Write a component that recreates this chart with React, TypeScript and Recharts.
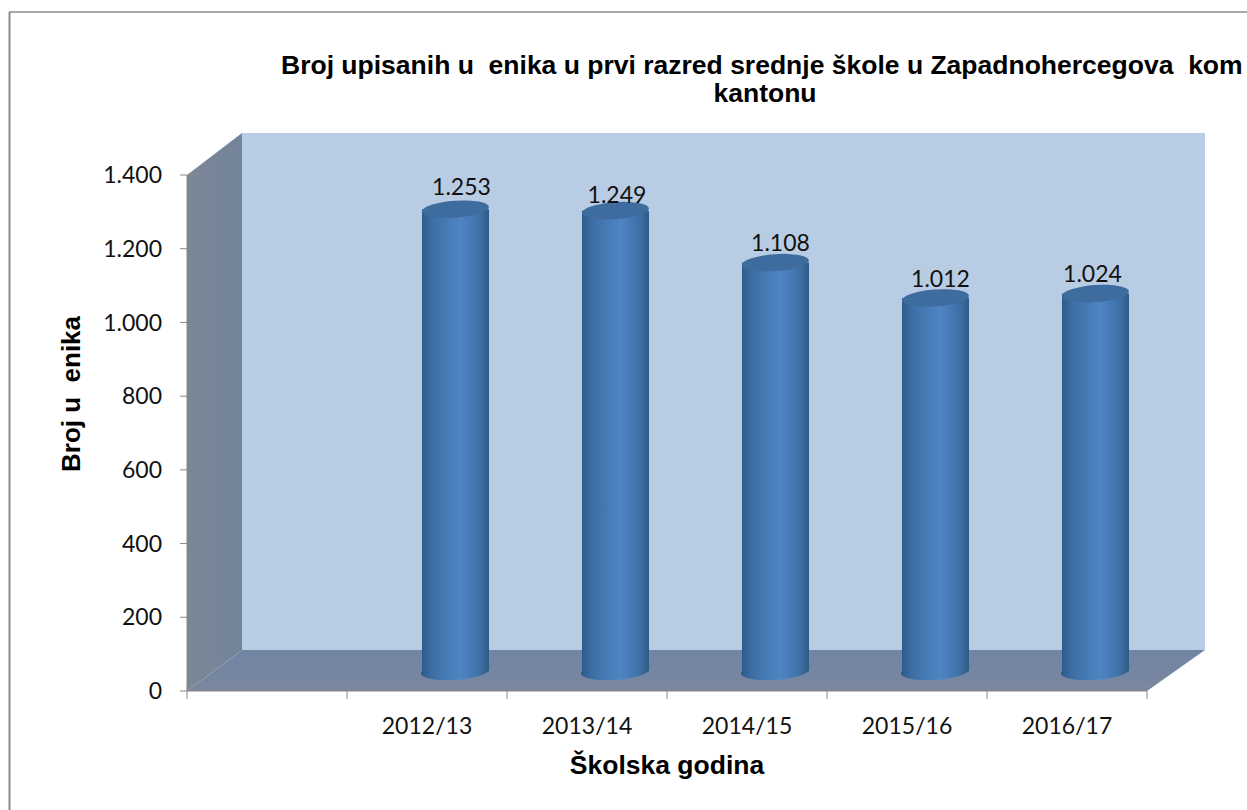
import { BarChart, Bar, XAxis, YAxis, LabelList, usePlotArea } from "recharts";

const categories = ["", "2012/13", "2013/14", "2014/15", "2015/16", "2016/17"];
const students = [null, 1253, 1249, 1108, 1012, 1024];
const yTicks = [0, 200, 400, 600, 800, 1000, 1200, 1400];

const titleLines = [
  "Broj upisanih u  enika u prvi razred srednje škole u Zapadnohercegova  kom",
  "kantonu",
];
const xTitle = "Školska godina";
const yTitle = "Broj u  enika";

const chartData = categories.map((year, i) => ({ year, students: students[i] }));

// 3D look: how far the back wall sits from the front axes
const DEPTH_X = 55;
const DEPTH_Y = 41;
const BAR_SHIFT_X = 28;
const BAR_SHIFT_Y = -20;
const CAP_RY = 8.5;
const LABEL_FONT = "Lato, 'Open Sans', sans-serif";
const TITLE_FONT = "'Liberation Sans', Arial, sans-serif";
const PRE = { whiteSpace: "pre" as const };
// small hand nudges of the data labels, one per drawn bar
const labelNudgeX = [6, 1.5, 5, 5, -3];
const labelNudgeY = [-23, -17, -21, -20, -21];

const formatThousands = (v: number) =>
  String(v).replace(/\B(?=(\d{3})+$)/g, ".");

const Walls = () => {
  const plot = usePlotArea();
  if (!plot) return null;
  const { x, y, width, height } = plot;
  const left = x;
  const right = x + width;
  const top = y;
  const bottom = y + height;
  const pts = (list: number[][]) => list.map((p) => p.join(",")).join(" ");
  return (
    <g>
      <defs>
        <linearGradient id="sideWall" x1="0" y1="0" x2="1" y2="0">
          <stop offset="0%" stopColor="#7c8795" />
          <stop offset="100%" stopColor="#72849b" />
        </linearGradient>
        <linearGradient id="floorFill" x1="0" y1="0" x2="0" y2="1">
          <stop offset="0%" stopColor="#7185a4" />
          <stop offset="100%" stopColor="#7a87a0" />
        </linearGradient>
      </defs>
      <rect
        x={left + DEPTH_X}
        y={top - DEPTH_Y - 1}
        width={width + 3}
        height={height + 1}
        fill="#b8cce4"
      />
      <polygon
        points={pts([
          [left, top],
          [left + DEPTH_X, top - DEPTH_Y - 1],
          [left + DEPTH_X, bottom - DEPTH_Y],
          [left, bottom],
        ])}
        fill="url(#sideWall)"
      />
      <polygon
        points={pts([
          [left, bottom],
          [left + DEPTH_X, bottom - DEPTH_Y],
          [right + DEPTH_X + 3, bottom - DEPTH_Y],
          [right, bottom],
        ])}
        fill="url(#floorFill)"
      />
    </g>
  );
};

const Cylinder = (props: any) => {
  const { x, y, width, height } = props;
  if (!height || height <= 0) return null;
  const rx = width / 2;
  const cx = x + rx + BAR_SHIFT_X;
  const topY = y + BAR_SHIFT_Y;
  const baseY = y + height + BAR_SHIFT_Y;
  const tilt = -4;
  return (
    <g>
      <path
        d={`M${cx - rx},${topY} L${cx - rx},${baseY} A${rx},${CAP_RY} ${tilt} 0 0 ${cx + rx},${baseY} L${cx + rx},${topY} Z`}
        fill="url(#cylBody)"
      />
      <ellipse
        cx={cx}
        cy={topY}
        rx={rx}
        ry={CAP_RY}
        fill="#3f6c9f"
        transform={`rotate(${tilt} ${cx} ${topY})`}
      />
    </g>
  );
};

const BarValueLabel = (props: any) => {
  const { x, y, width, value, index } = props;
  if (value == null) return null;
  return (
    <text
      x={x + width / 2 + BAR_SHIFT_X + labelNudgeX[index]}
      y={y + BAR_SHIFT_Y + labelNudgeY[index]}
      textAnchor="middle"
      dominantBaseline="central"
      fontFamily={LABEL_FONT}
      fontSize={23}
      fill="#111"
    >
      {formatThousands(value)}
    </text>
  );
};

const CategoryTick = (props: any) => {
  const { x, y, payload, index } = props;
  const half = 80;
  return (
    <g>
      <line x1={x - half} x2={x - half} y1={y - 8} y2={y} stroke="#868686" />
      {index === categories.length - 1 && (
        <line x1={x + half} x2={x + half} y1={y - 8} y2={y} stroke="#868686" />
      )}
      <text
        x={x}
        y={y + 26}
        textAnchor="middle"
        dominantBaseline="central"
        fontFamily={LABEL_FONT}
        fontSize={23}
        fill="#111"
      >
        {payload.value}
      </text>
    </g>
  );
};

const Titles = () => (
  <g fontFamily={TITLE_FONT} fontWeight="bold" fill="#000">
    <text x={281} y={65} dominantBaseline="central" fontSize={26.5} style={PRE}>
      {titleLines[0]}
    </text>
    <text x={765} y={93} textAnchor="middle" dominantBaseline="central" fontSize={26.5}>
      {titleLines[1]}
    </text>
    <text x={667} y={765} textAnchor="middle" dominantBaseline="central" fontSize={26.5}>
      {xTitle}
    </text>
    <text
      x={71}
      y={394}
      textAnchor="middle"
      dominantBaseline="central"
      fontSize={26}
      transform="rotate(-90 71 394)"
      style={PRE}
    >
      {yTitle}
    </text>
    <line x1={9.5} y1={12} x2={9.5} y2={810} stroke="#8c8c8c" strokeWidth={2} />
    <line x1={9} y1={12} x2={1247} y2={12} stroke="#8c8c8c" strokeWidth={1.5} />
  </g>
);

export default function App() {
  return (
    <div style={{ position: "absolute", left: 0, top: 0, background: "#fff" }}>
      <BarChart
        width={1247}
        height={810}
        data={chartData}
        margin={{ top: 175, right: 100, bottom: 59, left: 127 }}
        barCategoryGap={0}
      >
        <defs>
          <linearGradient id="cylBody" x1="0" y1="0" x2="1" y2="0">
            <stop offset="0%" stopColor="#2f5a88" />
            <stop offset="18%" stopColor="#3e6fa6" />
            <stop offset="58%" stopColor="#4f85c5" />
            <stop offset="85%" stopColor="#3f71a8" />
            <stop offset="100%" stopColor="#2f5a86" />
          </linearGradient>
        </defs>
        <Walls />
        <XAxis
          dataKey="year"
          height={60}
          interval={0}
          tick={<CategoryTick />}
          tickLine={false}
          axisLine={{ stroke: "#868686" }}
        />
        <YAxis
          width={60}
          domain={[0, 1400]}
          ticks={yTicks}
          tickFormatter={formatThousands}
          tickSize={7}
          tickMargin={18}
          tick={{ fontFamily: LABEL_FONT, fontSize: 23, fill: "#111" }}
          tickLine={{ stroke: "#868686" }}
          axisLine={{ stroke: "#868686" }}
        />
        <Bar
          dataKey="students"
          barSize={67}
          shape={<Cylinder />}
          isAnimationActive={false}
        >
          <LabelList dataKey="students" content={<BarValueLabel />} />
        </Bar>
        <Titles />
      </BarChart>
    </div>
  );
}
